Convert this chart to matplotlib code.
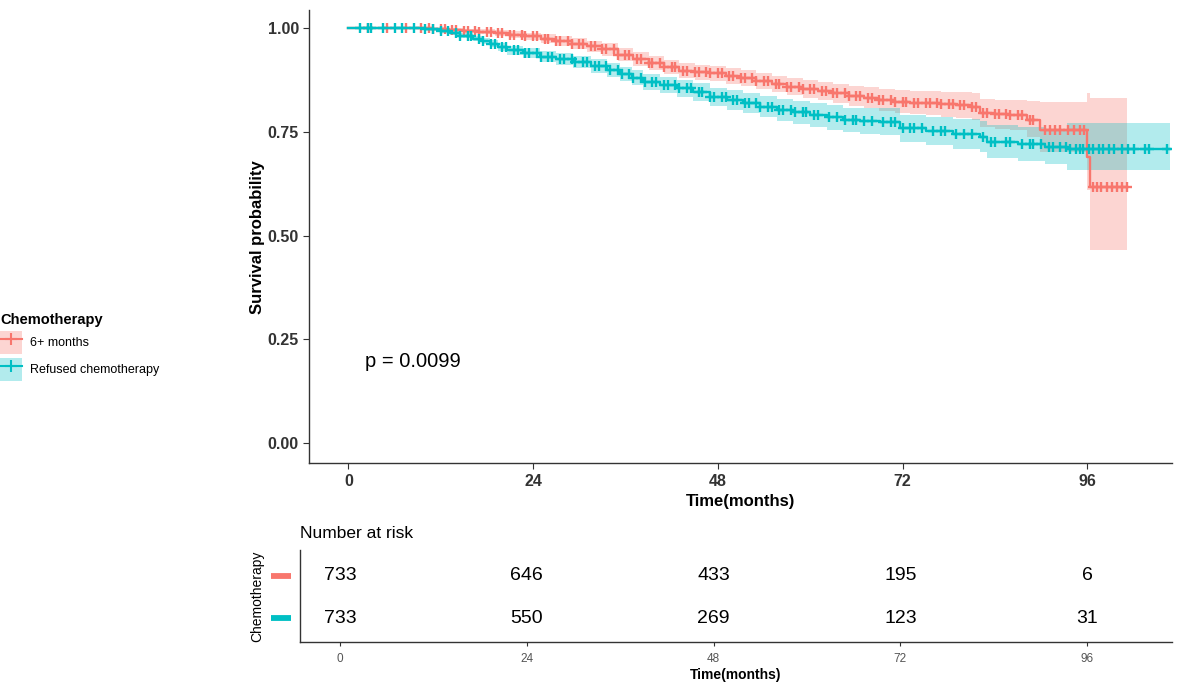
import numpy as np
import matplotlib
matplotlib.use("Agg")
import matplotlib.pyplot as plt
from matplotlib.patches import Patch
from matplotlib.lines import Line2D

plt.rcParams['font.family'] = ['Liberation Sans', 'DejaVu Sans']

# ---- data ----
groups = ['6+ months', 'Refused chemotherapy']
colors = ['#F8766D', '#00BFC4']

t_6plus = [0, 9, 11, 13, 15, 17, 19, 21, 23, 25, 27, 29, 31, 33, 35, 37, 39, 41, 43, 45,
           47, 49, 51, 53, 55, 57, 59, 61, 63, 65, 67, 69, 71, 73, 75, 77, 79, 81, 82.1, 84,
           86, 88.2, 89.9, 95.96, 96.4, 101.2]
s_6plus = [1.000, 0.999, 0.997, 0.995, 0.992, 0.990, 0.987, 0.983, 0.979, 0.974,
           0.968, 0.962, 0.955, 0.948, 0.935, 0.925, 0.915, 0.906, 0.897, 0.893,
           0.890, 0.884, 0.879, 0.872, 0.865, 0.858, 0.853, 0.848, 0.842, 0.836,
           0.832, 0.826, 0.822, 0.820, 0.818, 0.816, 0.814, 0.810, 0.794, 0.792,
           0.790, 0.778, 0.754, 0.690, 0.617, 0.617]
lo_6plus = [1.000, 0.997, 0.994, 0.991, 0.987, 0.984, 0.980, 0.975, 0.970, 0.963,
            0.956, 0.949, 0.941, 0.933, 0.919, 0.909, 0.898, 0.889, 0.879, 0.875,
            0.872, 0.865, 0.860, 0.853, 0.845, 0.838, 0.832, 0.826, 0.819, 0.812,
            0.807, 0.800, 0.795, 0.792, 0.789, 0.786, 0.783, 0.778, 0.760, 0.757,
            0.754, 0.738, 0.702, 0.610, 0.465, 0.465]
hi_6plus = [1.000, 1.000, 1.000, 0.999, 0.997, 0.996, 0.994, 0.991, 0.988, 0.985,
            0.980, 0.975, 0.969, 0.963, 0.951, 0.941, 0.932, 0.923, 0.915, 0.911,
            0.908, 0.903, 0.898, 0.891, 0.885, 0.878, 0.874, 0.870, 0.865, 0.860,
            0.857, 0.852, 0.849, 0.848, 0.847, 0.846, 0.845, 0.842, 0.828, 0.827,
            0.826, 0.824, 0.822, 0.843, 0.830, 0.830]

t_refused = [0, 8, 10, 12, 13.2, 14.5, 16.2, 17.3, 18.4, 19.5, 20.6, 22.7, 24.9, 27, 29.2,
             31.5, 33.6, 35.3, 36.8, 38.3, 40.5, 42.7, 44.8, 47.0, 49.2, 51.3, 53.5, 55.7,
             57.8, 60.0, 62.2, 64.3, 66.5, 69.1, 71.7, 75, 78.5, 82.1, 83.0, 87, 90.5, 93.4,
             106.8]
s_refused = [1.000, 0.999, 0.996, 0.992, 0.987, 0.981, 0.974, 0.968, 0.962, 0.954,
             0.946, 0.938, 0.930, 0.924, 0.918, 0.908, 0.898, 0.888, 0.880, 0.870,
             0.862, 0.854, 0.845, 0.834, 0.826, 0.818, 0.810, 0.802, 0.796, 0.790,
             0.784, 0.778, 0.775, 0.774, 0.758, 0.752, 0.745, 0.738, 0.726, 0.720,
             0.714, 0.708, 0.708]
lo_refused = [1.000, 0.997, 0.993, 0.988, 0.982, 0.975, 0.967, 0.960, 0.953, 0.944,
              0.935, 0.926, 0.917, 0.910, 0.903, 0.892, 0.882, 0.871, 0.862, 0.851,
              0.842, 0.833, 0.823, 0.812, 0.803, 0.794, 0.785, 0.776, 0.769, 0.762,
              0.755, 0.748, 0.744, 0.742, 0.725, 0.718, 0.709, 0.700, 0.687, 0.680,
              0.672, 0.658, 0.658]
hi_refused = [1.000, 1.000, 0.999, 0.996, 0.992, 0.987, 0.981, 0.976, 0.971, 0.964,
              0.957, 0.950, 0.943, 0.938, 0.933, 0.924, 0.914, 0.905, 0.898, 0.889,
              0.882, 0.875, 0.867, 0.856, 0.849, 0.842, 0.835, 0.828, 0.823, 0.818,
              0.813, 0.808, 0.806, 0.806, 0.791, 0.786, 0.781, 0.776, 0.765, 0.760,
              0.756, 0.771, 0.771]

cens_6plus = [2.5, 5, 7.5, 9.5, 10.5, 11, 12, 12.5, 13.5, 14, 15, 15.5, 16.5, 17, 18, 18.5,
              19.5, 20, 21, 21.5, 22.5, 23, 24, 24.5, 25.5, 26, 27, 27.5, 28.5, 29, 30, 30.5,
              31.5, 32, 33, 33.5, 34.5, 35, 36, 36.5, 37.5, 38, 39, 39.5, 40.5, 41, 42, 42.5,
              43.5, 44, 45, 45.5, 46.5, 47, 48, 48.5, 49.5, 50, 51, 51.5, 52.5, 53, 54, 54.5,
              55.5, 56, 57, 57.5, 58.5, 59, 60, 60.5, 61.5, 62, 63, 63.5, 64.5, 65, 66, 66.5,
              67.5, 68, 69, 69.5, 70.5, 71, 72, 72.5, 73.5, 74, 75, 75.5, 76.5, 77, 78, 78.5,
              79.5, 80, 81, 81.5, 82.5, 83, 84, 84.5, 85.5, 86, 87, 87.5, 88.5, 89, 90.5,
              91.2, 91.8, 92.5, 93.5, 94.3, 95, 95.6, 96.8, 97.3, 97.8, 98.5, 99.2, 99.8,
              100.5, 101.2]
cens_refused = [1.5, 2.5, 3, 4.5, 6, 7, 8.5, 10, 11, 12, 13, 14, 14.5, 15.5, 16, 17, 17.5,
                18.5, 19, 20, 20.5, 21.5, 22, 23, 23.5, 24.5, 25, 26, 26.5, 27.5, 28, 29,
                29.5, 30.5, 31, 32, 32.5, 33.5, 34, 35, 35.5, 36.5, 37, 38, 38.5, 39.5, 40,
                41, 41.5, 42.5, 43, 44, 44.5, 45.5, 46, 47, 47.5, 48.5, 49, 50, 50.5, 51.5,
                52, 53, 53.5, 54.5, 55, 56, 56.5, 57.5, 58, 59, 59.5, 60.5, 61, 62.5, 63.5,
                64.5, 65.5, 66, 67, 68, 69.5, 70.5, 71, 72, 73, 73.5, 74.5, 76, 77, 77.5, 79,
                80, 81, 82.5, 83.5, 84, 85.5, 86, 87.5, 88.5, 89, 90, 91, 91.5, 92.5, 93.2,
                93.8, 94.5, 95, 95.5, 96.2, 96.8, 97.5, 98, 98.8, 99.5, 100.5, 101.3, 102,
                103.5, 104, 106.3]

risk_times = [0, 24, 48, 72, 96]
risk_6plus = [733, 646, 433, 195, 6]
risk_refused = [733, 550, 269, 123, 31]

p_text = 'p = 0.0099'

# ---- figure ----
W, H = 1181, 687
fig = plt.figure(figsize=(W / 100, H / 100), dpi=100)

ax = fig.add_axes([309.3 / W, 1 - 463.3 / H, (1172 - 309.3) / W, (463.3 - 10) / H])

curves = [(t_6plus, s_6plus, lo_6plus, hi_6plus, cens_6plus),
          (t_refused, s_refused, lo_refused, hi_refused, cens_refused)]

for (t, s, lo, hi, cens), col in zip(curves, colors):
    t = np.array(t); s = np.array(s)
    ax.fill_between(t, lo, hi, step='post', color=col, alpha=0.3, lw=0)
    ax.step(t, s, where='post', color=col, lw=1.7)
    idx = np.searchsorted(t, cens, side='right') - 1
    ax.plot(cens, s[idx], ls='none', marker='+', color=col, ms=7, mew=1.7)

ax.set_xlim(-5.07, 107.0)
ax.set_ylim(-0.048, 1.0426)
ax.set_xticks([0, 24, 48, 72, 96])
ax.set_yticks([0, 0.25, 0.5, 0.75, 1.0])
ax.set_yticklabels(['0.00', '0.25', '0.50', '0.75', '1.00'])
for sp in ['top', 'right']:
    ax.spines[sp].set_visible(False)
for sp in ['left', 'bottom']:
    ax.spines[sp].set_color('#333333')
    ax.spines[sp].set_linewidth(1.0)
ax.tick_params(length=4, color='#333333', labelsize=11.5, labelcolor='#333333')
for lab in ax.get_xticklabels() + ax.get_yticklabels():
    lab.set_fontweight('bold')
ax.set_ylabel('Survival probability', fontsize=12, fontweight='bold')
ax.yaxis.set_label_coords((265 - 309.3) / 862.7, 0.5)
ax.set_xlabel('Time(months)', fontsize=12, fontweight='bold', labelpad=4)
ax.text(2.2, 0.196, p_text, fontsize=14.5, va='center', ha='left')

# legend on the far left
handles = [(Patch(facecolor=c, alpha=0.3, edgecolor='none'),
            Line2D([], [], color=c, marker='+', ms=9, mew=1.5, lw=1.5)) for c in colors]
leg = fig.legend(handles, groups, loc='upper left', bbox_to_anchor=(0.0, 1 - 313 / H),
                 frameon=False, borderpad=0, borderaxespad=0, fontsize=9,
                 title='Chemotherapy', title_fontproperties={'weight': 'bold', 'size': 10.5},
                 handlelength=1.8, handleheight=2.5, labelspacing=0.3, handletextpad=0.6,
                 alignment='left')

# ---- number at risk table ----
ax2 = fig.add_axes([300 / W, 1 - 642 / H, 872 / W, 92 / H])
ax2.set_xlim(-5.14, 106.9)
ax2.set_ylim(0.4286, 2.619)
for x, a, b in zip(risk_times, risk_6plus, risk_refused):
    ax2.text(x, 2, str(a), ha='center', va='center', fontsize=14)
    ax2.text(x, 1, str(b), ha='center', va='center', fontsize=14)
for yv, c in zip([2, 1], colors):
    ax2.plot([-8.9, -6.34], [yv, yv], color=c, lw=4.2, solid_capstyle='butt', clip_on=False)
ax2.set_xticks(risk_times)
ax2.set_yticks([])
for sp in ['top', 'right']:
    ax2.spines[sp].set_visible(False)
for sp in ['left', 'bottom']:
    ax2.spines[sp].set_color('#333333')
    ax2.spines[sp].set_linewidth(1.0)
ax2.tick_params(axis='x', length=3, color='#333333', labelsize=8.5, labelcolor='#555555', pad=5)
ax2.set_xlabel('Time(months)', fontsize=10, fontweight='bold', labelpad=2)
ax2.set_ylabel('Chemotherapy', fontsize=10)
ax2.yaxis.set_label_coords((264 - 300) / 872, 0.5)
fig.text(300 / W, 1 - 533 / H, 'Number at risk', fontsize=12.5, va='center', ha='left')

fig.savefig('out.png', dpi=100)
